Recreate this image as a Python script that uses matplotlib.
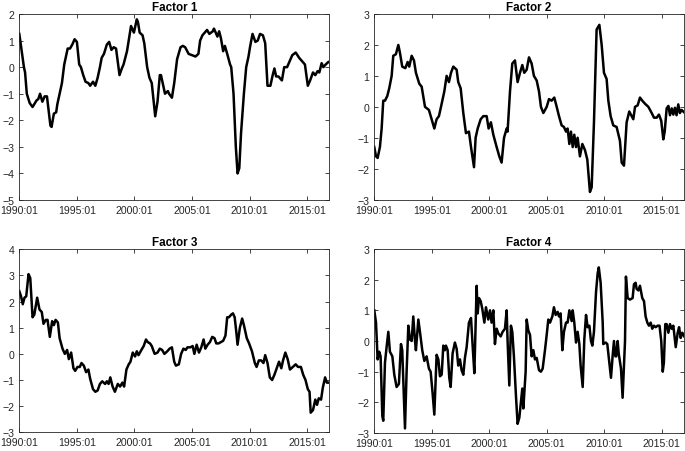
import matplotlib
matplotlib.use("Agg")
import matplotlib.pyplot as plt

plt.rcParams['font.family'] = ['Liberation Sans', 'DejaVu Sans']

# decimal years / values
f1_t = [1990.0, 1990.4, 1990.5, 1990.65, 1990.9, 1991.15, 1991.5, 1991.65, 1991.8, 1992.0,
        1992.2, 1992.4, 1992.7, 1992.8, 1993.0, 1993.2, 1993.3, 1993.7, 1993.9, 1994.2,
        1994.4, 1994.6, 1994.8, 1995.0, 1995.2, 1995.35, 1995.55, 1995.75, 1996.0, 1996.15,
        1996.4, 1996.6, 1996.8, 1997.0, 1997.15, 1997.35, 1997.6, 1997.8, 1998.0, 1998.2,
        1998.4, 1998.7, 1998.9, 1999.05, 1999.35, 1999.5, 1999.7, 1999.95, 2000.2, 2000.3,
        2000.45, 2000.7, 2000.85, 2001.1, 2001.3, 2001.5, 2001.8, 2002.0, 2002.2, 2002.3,
        2002.5, 2002.65, 2002.9, 2003.0, 2003.25, 2003.45, 2003.7, 2004.0, 2004.2, 2004.4,
        2004.7, 2005.0, 2005.3, 2005.55, 2005.7, 2005.9, 2006.3, 2006.5, 2006.8, 2006.9,
        2007.2, 2007.35, 2007.5, 2007.7, 2007.85, 2008.05, 2008.3, 2008.4, 2008.6, 2008.8,
        2008.95, 2009.1, 2009.25, 2009.5, 2009.7, 2009.9, 2010.05, 2010.25, 2010.5, 2010.7,
        2010.9, 2011.15, 2011.35, 2011.55, 2011.8, 2012.0, 2012.15, 2012.3, 2012.5, 2012.8,
        2013.0, 2013.25, 2013.45, 2013.7, 2014.0, 2014.3, 2014.6, 2014.8, 2015.05, 2015.25,
        2015.5, 2015.7, 2015.9, 2016.05, 2016.25, 2016.4, 2016.6, 2016.85, 2016.95]
f1_v = [1.25, 0.0, -0.2, -1.0, -1.35, -1.5, -1.25, -1.2, -1.0, -1.3,
        -1.1, -1.1, -2.2, -2.25, -1.75, -1.7, -1.4, -0.6, 0.1, 0.7,
        0.7, 0.85, 1.05, 0.95, 0.1, 0.0, -0.3, -0.55, -0.6, -0.7,
        -0.55, -0.7, -0.4, 0.0, 0.35, 0.5, 0.85, 0.95, 0.65, 0.75,
        0.7, -0.3, -0.05, 0.1, 0.6, 1.0, 1.55, 1.3, 1.8, 1.7,
        1.3, 1.2, 0.9, 0.0, -0.4, -0.6, -1.85, -1.3, -0.3, -0.3,
        -0.7, -1.0, -0.9, -1.0, -1.15, -0.6, 0.3, 0.75, 0.8, 0.75,
        0.5, 0.45, 0.4, 0.5, 1.0, 1.2, 1.4, 1.25, 1.35, 1.45,
        1.15, 1.35, 1.1, 0.6, 0.8, 0.5, 0.1, 0.0, -1.0, -3.0,
        -4.0, -3.8, -2.5, -1.0, 0.0, 0.4, 0.8, 1.25, 0.95, 1.0,
        1.25, 1.2, 0.9, -0.7, -0.7, -0.3, -0.05, -0.35, -0.35, -0.5,
        0.0, 0.0, 0.2, 0.45, 0.55, 0.35, 0.2, 0.1, -0.7, -0.5,
        -0.2, -0.3, -0.15, -0.2, 0.15, 0.0, 0.1, 0.2, 0.2]

f2_t = [1990.0, 1990.15, 1990.29, 1990.49, 1990.64, 1990.78, 1990.93, 1991.13, 1991.3, 1991.51,
        1991.65, 1991.88, 1992.09, 1992.23, 1992.43, 1992.7, 1992.9, 1993.04, 1993.25, 1993.45,
        1993.62, 1993.91, 1994.12, 1994.41, 1994.75, 1995.22, 1995.42, 1995.62, 1995.8, 1996.09,
        1996.29, 1996.49, 1996.67, 1996.87, 1997.16, 1997.3, 1997.51, 1997.74, 1997.97, 1998.23,
        1998.41, 1998.67, 1998.81, 1998.99, 1999.25, 1999.48, 1999.77, 1999.94, 2000.14, 2000.35,
        2000.64, 2000.87, 2001.07, 2001.28, 2001.51, 2001.59, 2001.8, 2002.0, 2002.23, 2002.46,
        2002.67, 2002.87, 2003.04, 2003.25, 2003.45, 2003.68, 2003.88, 2004.12, 2004.32, 2004.49,
        2004.7, 2004.99, 2005.19, 2005.42, 2005.65, 2005.86, 2006.06, 2006.29, 2006.49, 2006.67,
        2006.81, 2006.96, 2007.1, 2007.25, 2007.39, 2007.54, 2007.68, 2007.88, 2008.09, 2008.32,
        2008.52, 2008.75, 2008.9, 2009.1, 2009.33, 2009.57, 2009.77, 2009.97, 2010.2, 2010.35,
        2010.55, 2010.78, 2011.07, 2011.36, 2011.51, 2011.71, 2011.94, 2012.17, 2012.38, 2012.52,
        2012.67, 2012.9, 2013.1, 2013.3, 2013.54, 2013.83, 2014.12, 2014.32, 2014.55, 2014.75,
        2014.95, 2015.13, 2015.25, 2015.42, 2015.57, 2015.71, 2015.86, 2016.0, 2016.14, 2016.28,
        2016.43, 2016.57, 2016.72, 2016.95]
f2_v = [-1.3, -1.6, -1.65, -1.3, -0.7, 0.2, 0.2, 0.35, 0.6, 1.0,
        1.65, 1.7, 2.0, 1.75, 1.3, 1.25, 1.45, 1.3, 1.65, 1.5,
        1.1, 0.75, 0.65, 0.0, -0.1, -0.7, -0.4, -0.3, 0.0, 0.5,
        1.0, 0.8, 1.1, 1.3, 1.2, 0.8, 0.6, -0.2, -0.85, -0.8,
        -1.3, -1.95, -1.0, -0.7, -0.4, -0.3, -0.3, -0.7, -0.5, -0.9,
        -1.3, -1.6, -1.8, -1.0, -0.7, -0.8, 0.5, 1.4, 1.5, 0.8,
        1.1, 1.35, 1.1, 1.2, 1.6, 1.4, 1.0, 0.85, 0.5, 0.0,
        -0.2, 0.0, 0.25, 0.2, 0.3, 0.0, -0.3, -0.6, -0.65, -0.8,
        -0.7, -1.2, -0.8, -1.3, -0.9, -1.3, -1.0, -1.6, -1.2, -1.4,
        -1.7, -2.75, -2.6, -0.5, 2.5, 2.65, 2.0, 1.1, 0.9, 0.2,
        -0.3, -0.6, -0.65, -1.1, -1.8, -1.9, -0.5, -0.15, -0.3, -0.4,
        0.0, 0.05, 0.3, 0.2, 0.1, 0.0, -0.2, -0.35, -0.35, -0.25,
        -0.45, -1.05, -0.8, -0.05, 0.03, -0.27, -0.05, -0.25, -0.03, -0.27,
        0.08, -0.2, -0.1, -0.18]

f3_t = [1990.0, 1990.15, 1990.3, 1990.45, 1990.6, 1990.8, 1990.95, 1991.15, 1991.3, 1991.55,
        1991.75, 1991.95, 1992.1, 1992.3, 1992.45, 1992.65, 1992.85, 1993.0, 1993.15, 1993.35,
        1993.5, 1993.75, 1993.95, 1994.15, 1994.3, 1994.5, 1994.7, 1994.85, 1995.05, 1995.25,
        1995.4, 1995.6, 1995.8, 1996.0, 1996.15, 1996.4, 1996.6, 1996.8, 1997.0, 1997.2,
        1997.45, 1997.6, 1997.75, 1997.9, 1998.1, 1998.3, 1998.55, 1998.75, 1998.95, 1999.1,
        1999.3, 1999.5, 1999.65, 1999.85, 2000.05, 2000.2, 2000.35, 2000.6, 2000.8, 2001.0,
        2001.15, 2001.35, 2001.5, 2001.75, 2002.0, 2002.2, 2002.4, 2002.6, 2002.85, 2003.05,
        2003.25, 2003.45, 2003.6, 2003.85, 2004.05, 2004.25, 2004.45, 2004.6, 2004.85, 2005.05,
        2005.2, 2005.4, 2005.6, 2005.8, 2006.0, 2006.15, 2006.35, 2006.55, 2006.75, 2006.95,
        2007.1, 2007.3, 2007.5, 2007.7, 2007.9, 2008.05, 2008.2, 2008.4, 2008.55, 2008.7,
        2008.85, 2008.95, 2009.15, 2009.35, 2009.5, 2009.75, 2009.95, 2010.2, 2010.45, 2010.6,
        2010.8, 2011.0, 2011.2, 2011.35, 2011.55, 2011.75, 2011.95, 2012.15, 2012.35, 2012.55,
        2012.75, 2012.9, 2013.1, 2013.3, 2013.5, 2013.75, 2014.0, 2014.2, 2014.45, 2014.65,
        2014.85, 2015.05, 2015.2, 2015.3, 2015.5, 2015.7, 2015.85, 2016.0, 2016.2, 2016.35,
        2016.55, 2016.7, 2016.95]
f3_v = [2.4, 2.2, 1.9, 2.15, 2.2, 3.05, 2.9, 1.4, 1.5, 2.15,
        1.7, 1.6, 1.15, 1.3, 1.3, 0.65, 1.25, 1.1, 1.3, 1.2,
        0.6, 0.2, 0.0, 0.15, -0.2, 0.05, -0.55, -0.65, -0.5, -0.5,
        -0.35, -0.45, -0.7, -0.6, -0.95, -1.35, -1.45, -1.4, -1.15, -1.05,
        -1.15, -1.05, -1.15, -0.9, -1.25, -1.45, -1.15, -1.25, -1.1, -1.25,
        -0.6, -0.4, -0.3, 0.05, -0.1, 0.1, -0.05, 0.15, 0.3, 0.55,
        0.45, 0.4, 0.3, 0.0, 0.05, 0.2, 0.15, 0.0, 0.1, 0.2,
        0.25, -0.3, -0.45, -0.4, 0.0, 0.2, 0.15, 0.25, 0.25, 0.3,
        0.0, 0.35, 0.05, 0.25, 0.55, 0.2, 0.35, 0.45, 0.65, 0.6,
        0.4, 0.4, 0.45, 0.5, 0.7, 1.4, 1.4, 1.5, 1.55, 1.4,
        0.8, 0.35, 1.0, 1.35, 1.1, 0.6, 0.4, 0.1, -0.35, -0.5,
        -0.25, -0.25, -0.35, -0.05, -0.35, -0.9, -1.0, -0.8, -0.55, -0.3,
        -0.55, -0.25, 0.05, -0.2, -0.6, -0.5, -0.4, -0.5, -0.5, -0.8,
        -1.0, -1.35, -1.45, -2.25, -2.15, -1.75, -1.95, -1.7, -1.75, -1.3,
        -0.9, -1.1, -1.1]

f4_t = [1990.0, 1990.15, 1990.29, 1990.43, 1990.55, 1990.7, 1990.78, 1990.93, 1991.07, 1991.22,
        1991.36, 1991.57, 1991.74, 1991.94, 1992.14, 1992.32, 1992.43, 1992.67, 1992.81, 1992.96,
        1993.1, 1993.25, 1993.39, 1993.54, 1993.62, 1993.83, 1993.97, 1994.17, 1994.35, 1994.55,
        1994.75, 1994.9, 1995.07, 1995.22, 1995.42, 1995.57, 1995.71, 1995.86, 1996.0, 1996.14,
        1996.23, 1996.38, 1996.52, 1996.64, 1996.81, 1997.01, 1997.16, 1997.3, 1997.45, 1997.59,
        1997.74, 1997.88, 1998.03, 1998.23, 1998.41, 1998.55, 1998.7, 1998.9, 1998.99, 1999.1,
        1999.25, 1999.39, 1999.57, 1999.71, 1999.91, 2000.06, 2000.2, 2000.35, 2000.49, 2000.64,
        2000.78, 2000.99, 2001.16, 2001.36, 2001.51, 2001.59, 2001.74, 2001.88, 2002.0, 2002.14,
        2002.32, 2002.46, 2002.61, 2002.87, 2002.96, 2003.16, 2003.25, 2003.39, 2003.54, 2003.68,
        2003.83, 2003.97, 2004.12, 2004.32, 2004.49, 2004.64, 2004.84, 2004.99, 2005.13, 2005.28,
        2005.48, 2005.62, 2005.77, 2005.94, 2006.06, 2006.2, 2006.35, 2006.49, 2006.67, 2006.81,
        2006.96, 2007.16, 2007.25, 2007.39, 2007.54, 2007.68, 2007.83, 2007.94, 2008.12, 2008.26,
        2008.41, 2008.55, 2008.7, 2008.84, 2008.96, 2009.1, 2009.28, 2009.42, 2009.52, 2009.68,
        2009.86, 2009.91, 2010.12, 2010.26, 2010.43, 2010.58, 2010.72, 2010.84, 2010.96, 2011.04,
        2011.16, 2011.25, 2011.45, 2011.59, 2011.8, 2011.88, 2012.03, 2012.23, 2012.46, 2012.58,
        2012.72, 2012.81, 2012.96, 2013.1, 2013.3, 2013.45, 2013.59, 2013.74, 2013.88, 2014.03,
        2014.17, 2014.32, 2014.46, 2014.64, 2014.8, 2014.95, 2015.08, 2015.18, 2015.3, 2015.42,
        2015.57, 2015.71, 2015.86, 2016.0, 2016.21, 2016.38, 2016.5, 2016.64, 2016.78, 2016.95]
f4_v = [1.0, 0.6, -0.6, -0.35, -0.5, -2.45, -2.6, -0.7, -0.2, 0.3,
        -0.35, -0.5, -1.1, -1.5, -1.4, -0.1, -0.3, -2.85, -1.0, 0.5,
        0.05, 0.0, 0.8, 0.0, -0.3, 0.7, 0.3, -0.3, -0.65, -0.5,
        -0.9, -1.0, -1.7, -2.4, -0.45, -0.6, -1.15, -1.1, -0.15, -0.3,
        -0.15, -0.3, -1.2, -1.5, -0.4, -0.05, -0.25, -0.8, -0.6, -0.95,
        -1.1, -0.55, -0.2, 0.6, 0.75, -0.15, -1.05, 1.8, 0.9, 1.4,
        1.3, 1.05, 0.6, 1.1, 0.7, 1.0, 0.6, 1.0, -0.1, 0.4,
        0.25, 0.15, 0.3, 0.4, 1.0, 0.0, -1.45, 0.5, 0.3, -0.5,
        -1.8, -2.7, -2.5, -1.55, -2.2, -1.0, 0.7, 0.35, 0.2, -0.5,
        -0.3, -0.6, -0.55, -0.95, -1.0, -0.9, -0.3, 0.2, 0.7, 0.6,
        0.8, 1.1, 0.85, 0.95, 0.8, 0.9, -0.3, 0.3, 0.6, 0.6,
        1.0, 0.65, 1.0, 0.6, -0.05, 0.3, -0.1, -0.8, -1.5, 0.05,
        0.85, 0.45, 0.5, 0.0, -0.15, 0.3, 1.6, 2.2, 2.4, 1.9,
        0.6, -0.1, -0.05, -0.1, -0.7, -1.2, -0.5, 0.0, -0.5, -0.5,
        0.0, -0.4, -0.9, -1.85, 0.0, 2.1, 1.4, 1.35, 1.4, 1.85,
        1.9, 1.7, 1.65, 1.8, 1.4, 1.3, 0.8, 0.6, 0.5, 0.6,
        0.4, 0.5, 0.45, 0.5, 0.5, 0.0, -1.0, -0.7, 0.55, 0.55,
        0.27, 0.55, 0.4, 0.5, -0.2, 0.27, 0.45, 0.1, 0.27, 0.15]

titles = ['Factor 1', 'Factor 2', 'Factor 3', 'Factor 4']
yticks = [range(-5, 3), range(-3, 4), range(-3, 5), range(-3, 4)]
xtick_years = [1990, 1995, 2000, 2005, 2010, 2015]
xtick_labels = ['%d:01' % y for y in xtick_years]

series = [(f1_t, f1_v), (f2_t, f2_v), (f3_t, f3_v), (f4_t, f4_v)]
# axes boxes in figure fractions [left, bottom, width, height]
boxes = [[0.0282, 0.5553, 0.4526, 0.4115],
         [0.5464, 0.5560, 0.4520, 0.4108],
         [0.0282, 0.0414, 0.4526, 0.4048],
         [0.5464, 0.0398, 0.4520, 0.4071]]

fig = plt.figure(figsize=(6.85, 4.52), dpi=100)

for i in range(4):
    ax = fig.add_axes(boxes[i])
    t, v = series[i]
    ax.plot(t, v, color='black', lw=1.8)
    ax.set_xlim(1990.0, 2016.92)
    ax.set_ylim(yticks[i][0], yticks[i][-1])
    ax.set_yticks(list(yticks[i]))
    ax.set_xticks(xtick_years)
    ax.set_xticklabels(xtick_labels)
    ax.tick_params(direction='in', length=3, width=0.6, top=True, right=True,
                   labelsize=7.6, colors='#262626')
    ax.tick_params(axis='x', pad=3.5)
    ax.tick_params(axis='y', pad=3.5)
    for s in ax.spines.values():
        s.set_linewidth(0.6)
        s.set_color('#262626')
    ax.set_title(titles[i], fontsize=8.4, fontweight='bold', pad=3)

plt.savefig('out.png', dpi=100)
